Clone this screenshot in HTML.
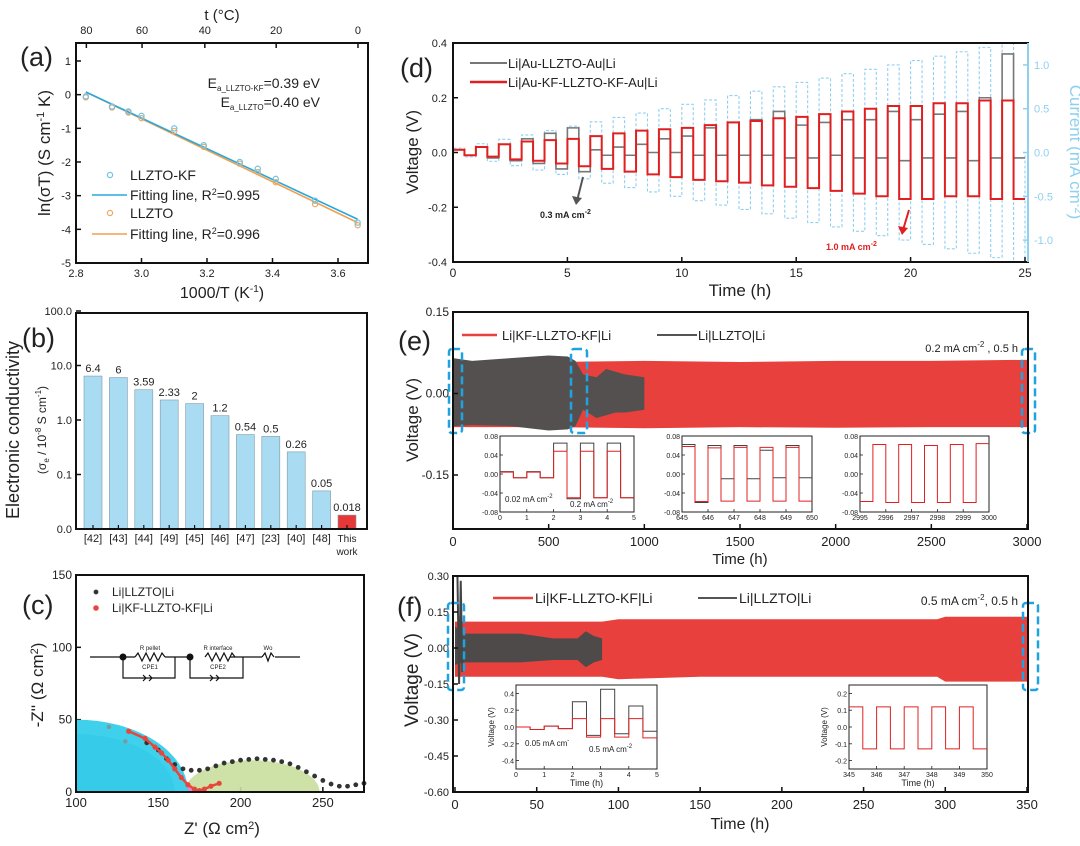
<!DOCTYPE html>
<html><head><meta charset="utf-8"><style>
body{margin:0;background:#fff}
svg{display:block;font-family:"Liberation Sans",Arial,sans-serif}
</style></head><body>
<svg id="fig" width="1080" height="846" viewBox="0 0 1080 846" xmlns="http://www.w3.org/2000/svg">
<g id="gA"></g>
<g id="gB"></g>
<g id="gC"></g>
<g id="gD"></g>
<g id="gE"></g>
<g id="gF"></g>
</svg>
<script>
// ---------- Panel (a) data ----------
const aX = [2.83,2.91,2.96,3.0,3.1,3.19,3.3,3.355,3.41,3.53,3.66];
const aKF = [-0.05,-0.35,-0.5,-0.63,-1.0,-1.5,-2.0,-2.2,-2.5,-3.15,-3.8];
const aLL = [-0.08,-0.38,-0.53,-0.7,-1.08,-1.55,-2.05,-2.3,-2.6,-3.25,-3.88];
const aFitKF = [[2.83,0.08],[3.66,-3.7]];
const aFitLL = [[2.83,0.08],[3.66,-3.8]];
const aXTicks = [2.8,3.0,3.2,3.4,3.6];
const aYTicks = [1,0,-1,-2,-3,-4,-5];
const aTopTicks = [80,60,40,20,0];
// ---------- Panel (b) data ----------
const bCats = ["[42]","[43]","[44]","[49]","[45]","[46]","[47]","[23]","[40]","[48]","This work"];
const bVals = [6.4,6,3.59,2.33,2,1.2,0.54,0.5,0.26,0.05,0.018];
const bLabels = ["6.4","6","3.59","2.33","2","1.2","0.54","0.5","0.26","0.05","0.018"];
const bYTicks = [100,10,1,0.1,0.01];
const bYTickLabels = ["100.0","10.0","1.0","0.1","0.0"];
// ---------- Panel (c) data ----------
const cBlackX = [143,150,155,160,165,170,175,180,185,190,195,200,205,210,215,220,225,230,235,240,245,250,255,260,265,270,275];
const cBlackY = [34,29,23,19,16,15,15,16,18,20,21,22,22.5,23,22.5,22,21,19.5,17,14,11,8,5.5,4,4,5,6];
const cRedX = [132,142,148,152,156,160,164,168,172,175,178,182,187];
const cRedY = [42,37,31,27,22,16,10,5,2,1,2,4,6];
const cGreyX = [120,130];
const cGreyY = [45,35];
const cXTicks = [100,150,200,250];
const cYTicks = [0,50,100,150];
// ---------- Panel (d) data ----------
const dCur = [0.05,0.1,0.15,0.2,0.25,0.3,0.35,0.4,0.45,0.5,0.55,0.6,0.65,0.7,0.75,0.8,0.85,0.9,0.95,1.0,1.05,1.1,1.15,1.2,1.25];
const dRedPos = [0.01,0.02,0.03,0.04,0.045,0.05,0.06,0.07,0.08,0.085,0.09,0.1,0.11,0.115,0.125,0.13,0.14,0.15,0.16,0.17,0.17,0.18,0.18,0.19,0.19];
const dRedNeg = [-0.01,-0.015,-0.025,-0.03,-0.04,-0.05,-0.06,-0.07,-0.08,-0.09,-0.1,-0.105,-0.11,-0.12,-0.125,-0.13,-0.14,-0.15,-0.16,-0.17,-0.17,-0.16,-0.16,-0.17,-0.17];
const dGrayPos = [0.01,0.02,0.03,0.05,0.07,0.09,0.01,0.02,0.03,0.05,0.06,0.09,0.11,0.12,0.15,0.1,0.11,0.12,0.12,0.15,0.12,0.14,0.15,0.2,0.36];
const dGrayNeg = [-0.01,-0.02,-0.03,-0.04,-0.06,-0.07,-0.01,-0.01,0,0,-0.01,-0.01,-0.01,-0.01,-0.02,-0.02,-0.01,-0.02,-0.02,-0.03,-0.02,-0.02,-0.03,-0.02,-0.02];
const dXTicks = [0,5,10,15,20,25];
const dYTicks = [0.4,0.2,0.0,-0.2,-0.4];
const dCurTicks = [1.0,0.5,0.0,-0.5,-1.0];
// ---------- Panel (e) data ----------
const eRedT = [0,500,1000,1500,2000,2500,3000];
const eRedTop = [0.058,0.058,0.06,0.058,0.06,0.06,0.062];
const eRedBot = [-0.062,-0.062,-0.064,-0.062,-0.063,-0.062,-0.062];
const eGrayT = [0,100,300,500,600,640,680,750,800,850,900,1000];
const eGrayTop = [0.065,0.06,0.065,0.07,0.068,0.06,0.035,0.03,0.045,0.04,0.035,0.03];
const eGrayBot = [-0.06,-0.058,-0.06,-0.068,-0.066,-0.06,-0.03,-0.045,-0.04,-0.035,-0.035,-0.03];
const eXTicks = [0,500,1000,1500,2000,2500,3000];
const eYTicks = [0.15,0.0,-0.15];
const eIn1Red = [0.004,-0.008,0.004,-0.008,0.048,-0.05,0.048,-0.05,0.048,-0.05];
const eIn1Gray = [0.005,-0.008,0.005,-0.008,0.065,-0.052,0.065,-0.05,0.065,-0.05];
const eIn2Red = [0.058,-0.058,0.055,-0.057,0.056,-0.057,0.056,-0.057,0.056,-0.057];
const eIn2Gray = [0.062,-0.06,0.06,-0.01,0.06,-0.01,0.05,-0.008,0.06,-0.008];
const eIn3Red = [-0.058,0.062,-0.06,0.062,-0.06,0.06,-0.06,0.062,-0.06,0.064];
const eInYTicks = [0.08,0.04,0.0,-0.04,-0.08];
// ---------- Panel (f) data ----------
const fRedT = [0,5,50,90,100,150,200,245,250,295,300,350];
const fRedTop = [0.11,0.11,0.11,0.11,0.12,0.12,0.12,0.12,0.12,0.12,0.13,0.13];
const fRedBot = [-0.12,-0.12,-0.12,-0.12,-0.13,-0.12,-0.12,-0.12,-0.12,-0.12,-0.14,-0.14];
const fGrayT = [0,5,20,40,60,75,80,85,90];
const fGrayTop = [0.09,0.06,0.06,0.06,0.04,0.04,0.07,0.05,0.04];
const fGrayBot = [-0.07,-0.06,-0.06,-0.06,-0.05,-0.05,-0.08,-0.06,-0.05];
const fXTicks = [0,50,100,150,200,250,300,350];
const fYTicks = [0.30,0.15,0.00,-0.15,-0.30,-0.45,-0.60];
const fIn1Red = [0.0,-0.03,0.01,-0.02,0.1,-0.12,0.1,-0.12,0.1,-0.13];
const fIn1Gray = [0.0,-0.03,0.01,-0.02,0.3,-0.1,0.45,-0.08,0.25,-0.05];
const fIn2Red = [0.12,-0.13,0.12,-0.13,0.12,-0.13,0.12,-0.13,0.12,-0.13];
const fInYTicks1 = [0.4,0.2,0.0,-0.2,-0.4];
const fInYTicks2 = [0.2,0.1,0.0,-0.1,-0.2];

const NS = "http://www.w3.org/2000/svg";
function mk(tag, attrs, parent, txt){
  const e = document.createElementNS(NS, tag);
  for (const k in attrs) e.setAttribute(k, attrs[k]);
  if (txt !== undefined) e.textContent = txt;
  parent.appendChild(e);
  return e;
}
function lin(d0,d1,r0,r1){ return v => r0 + (v-d0)*(r1-r0)/(d1-d0); }
function txt(parent, x, y, s, size, anchor, name, extra){
  const t = mk("text", Object.assign({x:x, y:y, "font-size":size, "text-anchor":anchor||"middle", fill:"#222"}, extra||{}), parent);
  t.innerHTML = s;
  
  
  return t;
}
function box(parent, x0,y0,x1,y1, w){
  const r = mk("rect",{x:x0,y:y0,width:x1-x0,height:y1-y0,fill:"none",stroke:"#111","stroke-width":w||2},parent);
  
  
}
function stepPath(t0, dt, vals, sx, sy){
  let d = "";
  vals.forEach((v,i)=>{
    const xa = sx(t0+i*dt), xb = sx(t0+(i+1)*dt), y = sy(v);
    d += (i===0 ? "M"+xa+","+y : "L"+xa+","+y) + "L"+xb+","+y;
  });
  return d;
}
function bandPath(ts, tops, bots, sx, sy){
  let d = "M"+sx(ts[0])+","+sy(tops[0]);
  for (let i=1;i<ts.length;i++) d += "L"+sx(ts[i])+","+sy(tops[i]);
  for (let i=ts.length-1;i>=0;i--) d += "L"+sx(ts[i])+","+sy(bots[i]);
  return d+"Z";
}

// ===== Panel A =====
(function(){
  const g = document.getElementById("gA");
  const X0=76,X1=368,Y0=43,Y1=263;
  const sx = lin(2.8,3.6,76,338), sy = lin(1,-5,61,263);
  txt(g,20,66,"(a)",27,"start","panel-label-a");
  aYTicks.forEach(v=>{ mk("line",{x1:X0,x2:X0+5,y1:sy(v),y2:sy(v),stroke:"#111","stroke-width":1.5},g); txt(g,X0-5,sy(v)+4,String(v),11,"end","y-tick-a"); });
  aXTicks.forEach(v=>{ mk("line",{x1:sx(v),x2:sx(v),y1:Y1,y2:Y1-5,stroke:"#111","stroke-width":1.5},g); txt(g,sx(v),Y1+14,v.toFixed(1),11,"middle","x-tick-a"); });
  aTopTicks.forEach(t=>{ const x = sx(1000/(t+273.15)); mk("line",{x1:x,x2:x,y1:Y0,y2:Y0+5,stroke:"#111","stroke-width":1.5},g); txt(g,x,Y0-9,String(t),11,"middle","top-tick-a"); });
  txt(g,222,20,"t (°C)",15,"middle","top-axis-title-a");
  txt(g,222,298,"1000/T (K<tspan dy='-6' font-size='10'>-1</tspan><tspan dy='6'>)</tspan>",16,"middle","x-axis-title-a");
  txt(g,0,0,"ln(σT) (S cm<tspan dy='-6' font-size='11'>-1</tspan><tspan dy='6'> K)</tspan>",17,"middle","y-axis-title-a",{transform:"translate(50,153) rotate(-90)"});
  const l1 = mk("line",{x1:sx(aFitLL[0][0]),y1:sy(aFitLL[0][1]),x2:sx(aFitLL[1][0]),y2:sy(aFitLL[1][1]),stroke:"#f0a050","stroke-width":1.6},g);
   
  const l2 = mk("line",{x1:sx(aFitKF[0][0]),y1:sy(aFitKF[0][1]),x2:sx(aFitKF[1][0]),y2:sy(aFitKF[1][1]),stroke:"#2aa8dc","stroke-width":1.6},g);
   
  aX.forEach((x,i)=>{
    const c1 = mk("circle",{cx:sx(x),cy:sy(aLL[i]),r:2.6,fill:"none",stroke:"#f0a860","stroke-width":1.2},g);
     
    const c2 = mk("circle",{cx:sx(x),cy:sy(aKF[i]),r:2.6,fill:"none",stroke:"#6cc4e6","stroke-width":1.2},g);
     
  });
  txt(g,320,88,"E<tspan dy='3' font-size='8'>a_LLZTO-KF</tspan><tspan dy='-3'>=0.39 eV</tspan>",14,"end","ea-kf-label");
  txt(g,320,107,"E<tspan dy='3' font-size='8'>a_LLZTO</tspan><tspan dy='-3'>=0.40 eV</tspan>",14,"end","ea-llzto-label");
  const lg = mk("g",{},g);  
  mk("circle",{cx:110,cy:175,r:2.6,fill:"none",stroke:"#6cc4e6","stroke-width":1.2},lg);
  txt(lg,130,180,"LLZTO-KF",14,"start","legend-entry-kf");
  mk("line",{x1:92,x2:127,y1:195,y2:195,stroke:"#2aa8dc","stroke-width":1.6},lg);
  txt(lg,130,200,"Fitting line, R<tspan dy='-5' font-size='9'>2</tspan><tspan dy='5'>=0.995</tspan>",14,"start","legend-entry-fit-kf");
  mk("circle",{cx:110,cy:213,r:2.6,fill:"none",stroke:"#f0a860","stroke-width":1.2},lg);
  txt(lg,130,218,"LLZTO",14,"start","legend-entry-llzto");
  mk("line",{x1:92,x2:127,y1:234,y2:234,stroke:"#f0a050","stroke-width":1.6},lg);
  txt(lg,130,239,"Fitting line, R<tspan dy='-5' font-size='9'>2</tspan><tspan dy='5'>=0.996</tspan>",14,"start","legend-entry-fit-llzto");
  box(g,X0,Y0,X1,Y1);
})();

// ===== Panel B =====
(function(){
  const g = document.getElementById("gB");
  const X0=76,X1=367,Y0=313,Y1=529;
  const sy = v => 529 - (Math.log10(v)+2)*54.5;
  const step = 25.4, bx0 = 93;
  txt(g,22,347,"(b)",27,"start","panel-label-b");
  txt(g,0,0,"Electronic conductivity",18,"middle","y-axis-title-b",{transform:"translate(19,430) rotate(-90)"});
  txt(g,0,0,"(σ<tspan dy='3' font-size='8'>e</tspan><tspan dy='-3'> / 10</tspan><tspan dy='-5' font-size='8'>-8</tspan><tspan dy='5'> S cm</tspan><tspan dy='-5' font-size='8'>-1</tspan><tspan dy='5'>)</tspan>",12,"middle","y-axis-subtitle-b",{transform:"translate(46,430) rotate(-90)"});
  bYTicks.forEach((v,i)=>{ mk("line",{x1:X0,x2:X0+5,y1:sy(v),y2:sy(v),stroke:"#111","stroke-width":1.5},g); txt(g,X0-4,sy(v)+4,bYTickLabels[i],11,"end","y-tick-b"); });
  bVals.forEach((v,i)=>{
    const cx = bx0 + i*step;
    const r = mk("rect",{x:cx-9,y:sy(v),width:18,height:Y1-sy(v),fill:i===bVals.length-1?"#e63838":"#a9dcf2",stroke:"#7f9aa8","stroke-width":0.6},g);
     
    txt(g,cx,sy(v)-4,bLabels[i],11,"middle","bar-value-label");
    if (i===bVals.length-1){ txt(g,cx,542,"This",10,"middle","x-tick-b"); txt(g,cx,555,"work",10,"middle","x-tick-b"); }
    else txt(g,cx,542,bCats[i],11,"middle","x-tick-b");
    mk("line",{x1:cx,x2:cx,y1:Y1,y2:Y1-4,stroke:"#111","stroke-width":1.2},g);
  });
  box(g,X0,Y0,X1,Y1);
})();

// ===== Panel C =====
(function(){
  const g = document.getElementById("gC");
  const X0=76,X1=364,Y0=575,Y1=792;
  const sx = lin(100,275,76,364), sy = lin(0,150,792,575);
  txt(g,22,614,"(c)",27,"start","panel-label-c");
  cYTicks.forEach(v=>{ mk("line",{x1:X0,x2:X0+5,y1:sy(v),y2:sy(v),stroke:"#111","stroke-width":1.5},g); txt(g,X0-4,sy(v)+4,String(v),12,"end","y-tick-c"); });
  cXTicks.forEach(v=>{ mk("line",{x1:sx(v),x2:sx(v),y1:Y1,y2:Y1-5,stroke:"#111","stroke-width":1.5},g); txt(g,sx(v),Y1+15,String(v),13,"middle","x-tick-c"); });
  txt(g,222,834,"Z' (Ω cm<tspan font-size='11' dy='-5'>2</tspan><tspan dy='5'>)</tspan>",17,"middle","x-axis-title-c");
  txt(g,0,0,"-Z'' (Ω cm<tspan font-size='11' dy='-5'>2</tspan><tspan dy='5'>)</tspan>",17,"middle","y-axis-title-c",{transform:"translate(43,685) rotate(-90)"});
  const green = mk("path",{d:"M"+sx(166)+","+sy(0)+" A"+(sx(248)-sx(166))/2+" "+(sy(0)-sy(22))+" 0 0 1 "+sx(248)+","+sy(0)+"Z",fill:"#c9df9f",opacity:0.9},g);
   
  const pink = mk("path",{d:"M"+sx(150)+","+sy(25)+" Q"+sx(162)+","+sy(14)+" "+sx(172)+","+sy(0)+" L"+sx(160)+","+sy(0)+"Z",fill:"#d98bd0"},g);
   
  const cyan1 = mk("path",{d:"M"+sx(100)+","+sy(50)+" A"+(sx(168)-sx(100))+" "+(sy(0)-sy(50))+" 0 0 1 "+sx(168)+","+sy(0)+" L"+sx(100)+","+sy(0)+"Z",fill:"#3fd0ec"},g);
   
  const cyan2 = mk("path",{d:"M"+sx(100)+","+sy(40)+" A"+(sx(160)-sx(100))+" "+(sy(0)-sy(40))+" 0 0 1 "+sx(160)+","+sy(0)+" L"+sx(100)+","+sy(0)+"Z",fill:"#2ec8e8",opacity:0.6},g);
   
  cGreyX.forEach((x,i)=>{ const c=mk("circle",{cx:sx(x),cy:sy(cGreyY[i]),r:2.2,fill:"#7a9a9a"},g);   });
  cBlackX.forEach((x,i)=>{ const c=mk("circle",{cx:sx(x),cy:sy(cBlackY[i]),r:2.4,fill:"#333"},g);   });
  cRedX.forEach((x,i)=>{ const c=mk("circle",{cx:sx(x),cy:sy(cRedY[i]),r:2.6,fill:"#e8463c"},g);   });
  const redLine = mk("path",{d:"M"+cRedX.map((x,i)=>sx(x)+","+sy(cRedY[i])).join("L"),fill:"none",stroke:"#e8463c","stroke-width":2.5},g);
   
  const lg = mk("g",{},g);  
  mk("circle",{cx:96,cy:592,r:2.4,fill:"#333"},lg);
  txt(lg,112,596,"Li|LLZTO|Li",12,"start","legend-entry-llzto");
  mk("circle",{cx:96,cy:608,r:2.8,fill:"#e8463c"},lg);
  txt(lg,112,612,"Li|KF-LLZTO-KF|Li",12,"start","legend-entry-kf");
  const ck = mk("g",{stroke:"#111","stroke-width":1.2,fill:"none"},g);  
  mk("path",{d:"M90,657 H135 M123,657 V678 H175 V657 M165,657 H190 M190,657 V678 H243 V657 M230,657 H262 M275,657 H300"},ck);
  mk("path",{d:"M135,657 l3,-4 l4,8 l4,-8 l4,8 l4,-8 l4,8 l4,-8 l3,4 M205,657 l3,-4 l4,8 l4,-8 l4,8 l4,-8 l4,8 l4,-8 l3,4 M262,657 l3,-4 l3,8 l3,-8 l3,4"},ck);
  mk("path",{d:"M143,675 l3,3 l-3,3 M149,675 l3,3 l-3,3 M210,675 l3,3 l-3,3 M216,675 l3,3 l-3,3"},ck);
  mk("circle",{cx:123,cy:657,r:3.5,fill:"#111",stroke:"none"},g);
  mk("circle",{cx:190,cy:657,r:3.5,fill:"#111",stroke:"none"},g);
  txt(g,150,650,"R pellet",6,"middle","circuit-label");
  txt(g,218,650,"R interface",6,"middle","circuit-label");
  txt(g,268,650,"Wo",6,"middle","circuit-label");
  txt(g,150,669,"CPE1",6,"middle","circuit-label");
  txt(g,218,669,"CPE2",6,"middle","circuit-label");
  box(g,X0,Y0,X1,Y1);
})();

// ===== Panel D =====
(function(){
  const g = document.getElementById("gD");
  const X0=453,X1=1028,Y0=43,Y1=262;
  const sx = lin(0,25,453,1025), sy = lin(0.4,-0.4,43,262), sc = lin(1.25,-1.25,43,262);
  txt(g,400,77,"(d)",27,"start","panel-label-d");
  let dc = "";
  dCur.forEach((c,i)=>{ const xa=sx(i), xm=sx(i+0.5), xb=sx(i+1); dc += (i===0?"M"+xa+","+sc(0):"")+"L"+xa+","+sc(c)+"L"+xm+","+sc(c)+"L"+xm+","+sc(-c)+"L"+xb+","+sc(-c)+"L"+xb+","+sc(0); });
  const cp = mk("path",{d:dc,fill:"none",stroke:"#8fd0ef","stroke-width":1.1,"stroke-dasharray":"3,2"},g);
   
  function sq(pos,neg,col,w,name){
    let d="";
    pos.forEach((p,i)=>{ const xa=sx(i), xm=sx(i+0.5), xb=sx(i+1); d += (i===0?"M"+xa+","+sy(0):"L"+xa+","+sy(neg[i-1]))+"L"+xa+","+sy(p)+"L"+xm+","+sy(p)+"L"+xm+","+sy(neg[i])+"L"+xb+","+sy(neg[i]); });
    const p = mk("path",{d:d,fill:"none",stroke:col,"stroke-width":w},g);
     
  }
  sq(dGrayPos,dGrayNeg,"#777",1.6,"series-au-llzto");
  sq(dRedPos,dRedNeg,"#e02020",2,"series-au-kf-llzto");
  dYTicks.forEach(v=>{ mk("line",{x1:X0,x2:X0+5,y1:sy(v),y2:sy(v),stroke:"#111","stroke-width":1.5},g); txt(g,X0-6,sy(v)+4,v.toFixed(1),11,"end","y-tick-d"); });
  dCurTicks.forEach(v=>{ mk("line",{x1:X1,x2:X1-5,y1:sc(v),y2:sc(v),stroke:"#8fd0ef","stroke-width":1.5},g); txt(g,X1+6,sc(v)+4,v.toFixed(1),11,"start","right-tick-d",{fill:"#8fd0ef"}); });
  dXTicks.forEach(v=>{ mk("line",{x1:sx(v),x2:sx(v),y1:Y1,y2:Y1-5,stroke:"#111","stroke-width":1.5},g); txt(g,sx(v),Y1+15,String(v),12,"middle","x-tick-d"); });
  txt(g,740,296,"Time (h)",17,"middle","x-axis-title-d");
  txt(g,0,0,"Voltage (V)",17,"middle","y-axis-title-d",{transform:"translate(418,152) rotate(-90)"});
  txt(g,0,0,"Current (mA cm<tspan font-size='11' dy='-5'>-2</tspan><tspan dy='5'>)</tspan>",17,"middle","right-axis-title-d",{transform:"translate(1070,152) rotate(90)",fill:"#8fd0ef"});
  const lg = mk("g",{},g);  
  mk("line",{x1:470,x2:507,y1:63,y2:63,stroke:"#777","stroke-width":2},lg);
  txt(lg,508,68,"Li|Au-LLZTO-Au|Li",13,"start","legend-entry-gray");
  mk("line",{x1:470,x2:507,y1:82,y2:82,stroke:"#e02020","stroke-width":2.5},lg);
  txt(lg,508,87,"Li|Au-KF-LLZTO-KF-Au|Li",13,"start","legend-entry-red");
  mk("path",{d:"M583,177 L577,201",stroke:"#555","stroke-width":2},g);
  mk("path",{d:"M572,196 L576,205 L582,198Z",fill:"#555"},g);
  txt(g,540,218,"0.3 mA cm<tspan font-size='7' dy='-4'>-2</tspan>",9,"start","annotation-0.3",{"font-weight":"bold"});
  mk("path",{d:"M909,210 L903,230",stroke:"#e02020","stroke-width":2},g);
  mk("path",{d:"M898,226 L902,235 L908,228Z",fill:"#e02020"},g);
  txt(g,826,250,"1.0 mA cm<tspan font-size='7' dy='-4'>-2</tspan>",9,"start","annotation-1.0",{"font-weight":"bold",fill:"#e02020"});
  box(g,X0,Y0,X1,Y1);
  mk("line",{x1:X1,x2:X1,y1:Y0,y2:Y1,stroke:"#8fd0ef","stroke-width":2},g);
})();

function inset(g, X0,Y0,X1,Y1, t0, yMin, yMax, yTicks, dec, xTicks, series, name, ylabel, xlabel){
  const ig = mk("g",{},g);  
  mk("rect",{x:X0,y:Y0,width:X1-X0,height:Y1-Y0,fill:"#fff",stroke:"#222","stroke-width":1},ig);
  const sx = lin(t0,t0+5,X0,X1), sy = lin(yMax,yMin,Y0,Y1);
  yTicks.forEach(v=>{ mk("line",{x1:X0,x2:X0+3,y1:sy(v),y2:sy(v),stroke:"#222","stroke-width":0.8},ig); txt(ig,X0-2,sy(v)+3,v.toFixed(dec),7,"end","inset-y-tick"); });
  xTicks.forEach(v=>{ mk("line",{x1:sx(v),x2:sx(v),y1:Y1,y2:Y1-3,stroke:"#222","stroke-width":0.8},ig); txt(ig,sx(v),Y1+8,String(v),7,"middle","inset-x-tick"); });
  series.forEach(s=>{ const p = mk("path",{d:stepPath(t0,0.5,s.v,sx,sy),fill:"none",stroke:s.c,"stroke-width":1},ig);   });
  if (ylabel) txt(ig,0,0,ylabel,8,"middle","inset-y-title",{transform:"translate("+(X0-22)+","+((Y0+Y1)/2)+") rotate(-90)"});
  if (xlabel) txt(ig,(X0+X1)/2,Y1+17,xlabel,9,"middle","inset-x-title");
  return ig;
}

// ===== Panel E =====
(function(){
  const g = document.getElementById("gE");
  const X0=453,X1=1028,Y0=312,Y1=529;
  const sx = lin(0,3000,453,1027), sy = lin(0.15,-0.15,312,475);
  txt(g,398,350,"(e)",27,"start","panel-label-e");
  const red = mk("path",{d:bandPath(eRedT,eRedTop,eRedBot,sx,sy),fill:"#e8403c"},g);
   
  const gr = mk("path",{d:bandPath(eGrayT,eGrayTop,eGrayBot,sx,sy),fill:"#555050"},g);
   
  eYTicks.forEach(v=>{ mk("line",{x1:X0,x2:X0+5,y1:sy(v),y2:sy(v),stroke:"#111","stroke-width":1.5},g); txt(g,X0-4,sy(v)+4,v.toFixed(2),12,"end","y-tick-e"); });
  eXTicks.forEach(v=>{ mk("line",{x1:sx(v),x2:sx(v),y1:Y1,y2:Y1-5,stroke:"#111","stroke-width":1.5},g); txt(g,sx(v),Y1+17,String(v),13,"middle","x-tick-e"); });
  txt(g,740,564,"Time (h)",15,"middle","x-axis-title-e");
  txt(g,0,0,"Voltage (V)",17,"middle","y-axis-title-e",{transform:"translate(418,420) rotate(-90)"});
  [[449,349,462,433],[571,349,587,433],[1022,349,1035,433]].forEach(b=>{ const r=mk("rect",{x:b[0],y:b[1],width:b[2]-b[0],height:b[3]-b[1],rx:3,fill:"none",stroke:"#1fa3e0","stroke-width":2.5,"stroke-dasharray":"8,4"},g);   });
  inset(g,500,436,634,512,0,-0.08,0.08,eInYTicks,2,[0,1,2,3,4,5],[{v:eIn1Gray,c:"#444",n:"inset-gray"},{v:eIn1Red,c:"#e02020",n:"inset-red"}],"inset-e-start");
  txt(g,505,502,"0.02 mA cm<tspan font-size='6' dy='-4'>-2</tspan>",8,"start","inset-annot");
  txt(g,570,507,"0.2 mA cm<tspan font-size='6' dy='-4'>-2</tspan>",8,"start","inset-annot");
  inset(g,682,436,812,512,645,-0.08,0.08,eInYTicks,2,[645,646,647,648,649,650],[{v:eIn2Gray,c:"#444",n:"inset-gray"},{v:eIn2Red,c:"#e02020",n:"inset-red"}],"inset-e-mid");
  inset(g,860,436,989,512,2995,-0.08,0.08,eInYTicks,2,[2995,2996,2997,2998,2999,3000],[{v:eIn3Red,c:"#e02020",n:"inset-red"}],"inset-e-end");
  const lg = mk("g",{},g);  
  mk("line",{x1:462,x2:497,y1:335,y2:335,stroke:"#e8403c","stroke-width":2.5},lg);
  txt(lg,502,340,"Li|KF-LLZTO-KF|Li",13,"start","legend-entry-red");
  mk("line",{x1:657,x2:697,y1:335,y2:335,stroke:"#555","stroke-width":2},lg);
  txt(lg,698,340,"Li|LLZTO|Li",13,"start","legend-entry-gray");
  txt(g,1018,352,"0.2 mA cm<tspan font-size='8' dy='-5'>-2</tspan><tspan dy='5'> , 0.5 h</tspan>",11,"end","condition-label-e");
  box(g,X0,Y0,X1,Y1);
})();

// ===== Panel F =====
(function(){
  const g = document.getElementById("gF");
  const X0=453,X1=1028,Y0=576,Y1=792;
  const sx = lin(0,350,455,1027), sy = lin(0.30,-0.60,576,792);
  txt(g,397,616,"(f)",27,"start","panel-label-f");
  const red = mk("path",{d:bandPath(fRedT,fRedTop,fRedBot,sx,sy),fill:"#e8403c"},g);
   
  const gr = mk("path",{d:bandPath(fGrayT,fGrayTop,fGrayBot,sx,sy),fill:"#4f4a4a"},g);
   
  const spike = mk("path",{d:"M"+sx(1.5)+","+sy(0.3)+"L"+sx(2.5)+","+sy(-0.15)+"L"+sx(3.5)+","+sy(0.28)+"L"+sx(4.5)+","+sy(-0.1),fill:"none",stroke:"#444","stroke-width":2},g);
   
  fYTicks.forEach(v=>{ mk("line",{x1:X0,x2:X0+5,y1:sy(v),y2:sy(v),stroke:"#111","stroke-width":1.5},g); txt(g,X0-4,sy(v)+4,v.toFixed(2),11,"end","y-tick-f"); });
  fXTicks.forEach(v=>{ mk("line",{x1:sx(v),x2:sx(v),y1:Y1,y2:Y1-5,stroke:"#111","stroke-width":1.5},g); txt(g,sx(v),Y1+17,String(v),13,"middle","x-tick-f"); });
  txt(g,740,829,"Time (h)",16,"middle","x-axis-title-f");
  txt(g,0,0,"Voltage (V)",19,"middle","y-axis-title-f",{transform:"translate(418,680) rotate(-90)"});
  [[448,603,464,690],[1023,603,1038,690]].forEach(b=>{ const r=mk("rect",{x:b[0],y:b[1],width:b[2]-b[0],height:b[3]-b[1],rx:3,fill:"none",stroke:"#1fa3e0","stroke-width":2.5,"stroke-dasharray":"8,4"},g);   });
  inset(g,516,685,657,769,0,-0.5,0.5,fInYTicks1,1,[0,1,2,3,4,5],[{v:fIn1Gray,c:"#444",n:"inset-gray"},{v:fIn1Red,c:"#e02020",n:"inset-red"}],"inset-f-start","Voltage (V)","Time (h)");
  txt(g,525,746,"0.05 mA cm<tspan font-size='6' dy='-4'>-</tspan>",8,"start","inset-annot");
  txt(g,589,752,"0.5 mA cm<tspan font-size='6' dy='-4'>-2</tspan>",8,"start","inset-annot");
  inset(g,849,685,987,769,345,-0.25,0.25,fInYTicks2,1,[345,346,347,348,349,350],[{v:fIn2Red,c:"#e02020",n:"inset-red"}],"inset-f-end","Voltage (V)","Time (h)");
  const lg = mk("g",{},g);  
  mk("line",{x1:493,x2:533,y1:598,y2:598,stroke:"#e8403c","stroke-width":2.5},lg);
  txt(lg,535,603,"Li|KF-LLZTO-KF|Li",14,"start","legend-entry-red");
  mk("line",{x1:698,x2:737,y1:598,y2:598,stroke:"#555","stroke-width":2},lg);
  txt(lg,739,603,"Li|LLZTO|Li",14,"start","legend-entry-gray");
  txt(g,1018,605,"0.5 mA cm<tspan font-size='8' dy='-5'>-2</tspan><tspan dy='5'>, 0.5 h</tspan>",12,"end","condition-label-f");
  box(g,X0,Y0,X1,Y1);
})();
</script>
</body></html>
